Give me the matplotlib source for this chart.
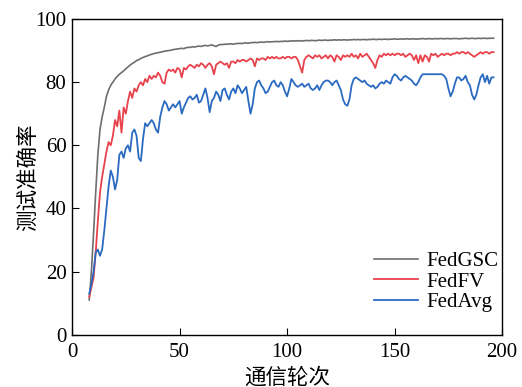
import matplotlib
matplotlib.use("Agg")
import matplotlib.pyplot as plt
import numpy as np

plt.rcParams['font.family'] = ['Liberation Serif', 'Noto Sans CJK SC']

# communication rounds shown on the x axis
rounds = np.arange(8, 197)

fedgsc = [
    11, 20, 32, 45, 57, 65, 69, 72, 75.5, 77.5,
    79, 80, 81, 81.8, 82.5, 83, 83.6, 84.2, 84.8, 85.4,
    85.9, 86.3, 86.8, 87.1, 87.5, 87.8, 88.1, 88.3, 88.6, 88.8,
    89.0, 89.2, 89.3, 89.5, 89.6, 89.8, 89.9, 90.0, 90.1, 90.3,
    90.4, 90.5, 90.6, 90.7, 90.6, 90.9, 91.0, 91.0, 91.2, 91.1,
    91.3, 91.4, 91.3, 91.5, 91.6, 91.5, 91.6, 91.8, 91.5, 91.3,
    91.7, 91.9, 91.9, 92.0, 92.0, 92.1, 92.1, 92.0, 92.2, 92.2,
    92.3, 92.2, 92.4, 92.4, 92.3, 92.5, 92.5, 92.6, 92.5, 92.6,
    92.7, 92.6, 92.7, 92.8, 92.7, 92.8, 92.8, 92.9, 92.8, 92.9,
    92.9, 93.0, 92.9, 93.0, 93.0, 93.1, 93.0, 93.1, 93.1, 93.0,
    93.1, 93.2, 93.1, 93.2, 93.2, 93.1, 93.2, 93.3, 93.2, 93.3,
    93.3, 93.2, 93.3, 93.3, 93.4, 93.3, 93.4, 93.3, 93.4, 93.4,
    93.3, 93.4, 93.4, 93.5, 93.4, 93.5, 93.4, 93.5, 93.5, 93.4,
    93.5, 93.5, 93.6, 93.5, 93.5, 93.6, 93.5, 93.6, 93.6, 93.5,
    93.6, 93.6, 93.7, 93.6, 93.6, 93.7, 93.6, 93.7, 93.7, 93.6,
    93.7, 93.7, 93.6, 93.7, 93.7, 93.8, 93.7, 93.7, 93.8, 93.7,
    93.7, 93.8, 93.7, 93.8, 93.8, 93.7, 93.8, 93.8, 93.7, 93.8,
    93.8, 93.8, 93.7, 93.8, 93.8, 93.9, 93.8, 93.8, 93.9, 93.8,
    93.8, 93.9, 93.8, 93.9, 93.9, 93.8, 93.9, 93.9, 93.9,
]

fedfv = [
    12, 15, 18, 26, 36, 45, 50, 54, 58, 61,
    60, 63, 68, 66, 71, 64, 72, 70, 74, 77,
    75, 78, 77, 79, 80, 79, 81, 80, 82, 81,
    82, 81.5, 83, 82, 80, 79.5, 83, 84, 83.5, 84,
    83, 84.5, 84, 81.5, 84.5, 84, 85, 85.5, 85, 84.5,
    85.5, 85, 86, 85.5, 84.5, 85.5, 86, 85, 82.5, 85.5,
    86, 86.5, 86, 85.5, 86, 84.5, 86.5, 86.5, 86, 87,
    86.5, 87, 87, 86.5, 87, 87.5, 87, 85, 87.5, 87,
    87.5, 87.5, 87, 88, 87.5, 88, 87.5, 88, 87.5, 87.5,
    88, 87.5, 88, 88, 87.5, 88, 88, 87, 85, 83,
    87, 88, 88.5, 88, 87.5, 88.5, 88, 88.5, 87.5, 88,
    88.5, 87.5, 88.5, 88, 86.5, 88.5, 88, 87, 88.5, 88,
    88.5, 88, 89, 88, 88.5, 87.5, 89, 88, 88.5, 89,
    88, 87, 86, 84.5, 87, 88.5, 88, 89, 88.5, 89,
    88.5, 89, 88.5, 89, 89, 88.5, 89, 88, 88.5, 89,
    88.5, 87, 88.5, 86, 88.5, 86.5, 88.5, 88, 86.5, 89,
    88.5, 89, 88, 88.5, 89, 88.5, 89, 89, 88.5, 89,
    89, 89.5, 89, 89.5, 89.5, 89, 89.5, 89, 88.5, 88,
    88.5, 89, 89.5, 89, 89.5, 89.5, 89, 89.5, 89.5,
]

fedavg = [
    13, 16, 20, 26, 27, 25, 27, 33, 40, 47,
    52, 50, 46, 49, 57, 58, 56, 59, 60, 58,
    64, 65, 63, 56, 55, 62, 67, 66, 67, 68,
    67, 65, 64, 69, 72, 74, 73, 71, 72, 73,
    72, 73, 74, 70, 72, 73.5, 75, 75.5, 74.5, 75,
    76, 73.5, 74, 76, 78, 75, 70.5, 74, 75, 77,
    76, 74, 77.5, 78, 76, 74.5, 77, 78, 76.5, 79,
    78, 76.5, 77.5, 78.5, 74, 70, 73, 78, 80, 80.5,
    79, 78, 76.5, 77, 78.5, 80, 80.5, 79, 78.5, 80,
    79, 77, 75.5, 78, 81, 80, 79, 78.5, 79, 79.5,
    78.5, 79, 79.5, 78, 77.5, 78, 79, 77.5, 79, 80,
    80.5, 80.5, 80, 79, 80, 80.5, 79, 77.5, 74.5, 73,
    72.5, 74.5, 79, 81, 81.5, 81, 80.5, 80, 80.5, 79.5,
    79, 78.5, 79, 78, 78.5, 79.5, 80, 79.5, 80.5, 80,
    79.5, 81.5, 82.5, 82, 81, 80.5, 81.5, 82, 81.5, 81,
    80.5, 79.5, 79, 80, 81.5, 82.5, 82.5, 82.5, 82.5, 82.5,
    82.5, 82.5, 82.5, 82.5, 82.5, 82, 81, 78, 75.5, 77,
    79.5, 81.5, 81.5, 80.5, 81, 82, 80, 79, 76, 74.5,
    76, 79, 81.5, 82.5, 80, 82, 79.5, 81.5, 81.5,
]

fig = plt.figure(figsize=(5.22, 3.87), dpi=100)
ax = fig.add_axes([0.138, 0.135, 0.824, 0.816])

ax.plot(rounds, fedgsc, color='#6e6e6e', lw=1.2, label='FedGSC')
ax.plot(rounds, fedfv, color='#e8424c', lw=1.3, label='FedFV')
ax.plot(rounds, fedavg, color='#2a6ac0', lw=1.3, label='FedAvg')

ax.set_xlim(0, 200)
ax.set_ylim(0, 100)
ax.set_xticks([0, 50, 100, 150, 200])
ax.set_yticks([0, 20, 40, 60, 80, 100])
ax.tick_params(direction='in', length=5, labelsize=15, top=False, right=False)
ax.tick_params(axis='x', pad=6)
ax.tick_params(axis='y', pad=4)
for s in ax.spines.values():
    s.set_linewidth(1.0)

ax.set_xlabel('通信轮次', fontsize=15.5, family=['Noto Sans CJK SC'], labelpad=3)
ax.set_ylabel('测试准确率', fontsize=15.5, family=['Noto Sans CJK SC'])
ax.yaxis.set_label_coords(-0.078, 0.5)

ax.legend(loc='lower right', bbox_to_anchor=(1.01, 0.045), frameon=False,
          fontsize=15, handlelength=2.1, labelspacing=0.05,
          borderaxespad=0, handletextpad=0.4)

fig.savefig('out.png', dpi=100)
